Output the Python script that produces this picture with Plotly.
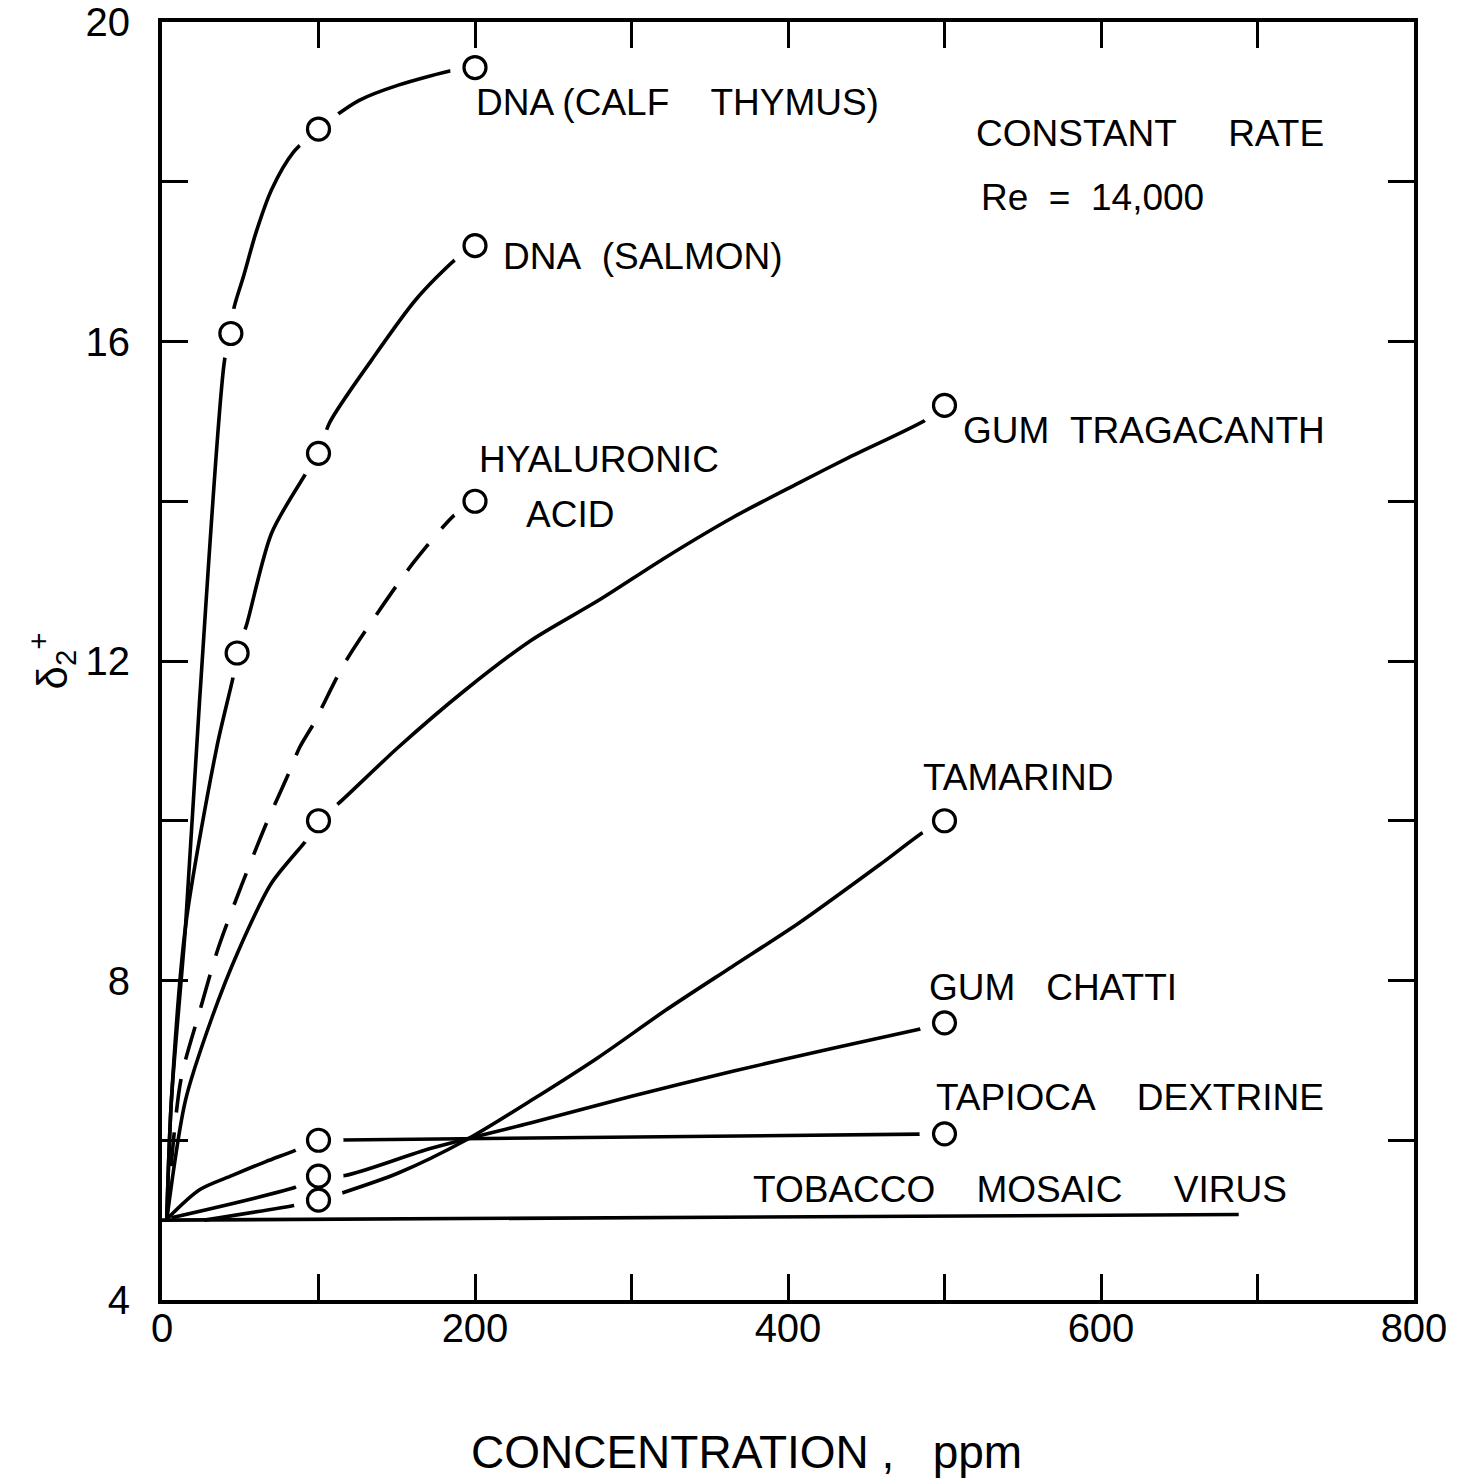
import plotly.graph_objects as go

# ---- measured points (concentration in ppm, delta_2+) ----
calf_x = [44, 100, 200]
calf_y = [16.1, 18.66, 19.43]
salmon_x = [48, 100, 200]
salmon_y = [12.1, 14.6, 17.2]
hyal_x = [200]
hyal_y = [14.0]
trag_x = [100, 500]
trag_y = [10.0, 15.2]
tamarind_x = [100, 500]
tamarind_y = [5.25, 10.0]
chatti_x = [100, 500]
chatti_y = [5.55, 7.47]
tapioca_x = [100, 500]
tapioca_y = [6.0, 6.08]
tmv_x = [0, 688]
tmv_y = [5.0, 5.07]

# ---- hand-faired curves through the points ----
calf_curve_x = [3, 6, 15, 24, 40, 44, 46, 52, 60, 70, 84, 100, 109, 126, 151, 187, 200]
calf_curve_y = [5.0, 6.5, 8.67, 11.5, 15.77, 16.1, 16.42, 16.81, 17.36, 17.9, 18.37, 18.66,
                18.8, 19.02, 19.21, 19.4, 19.43]
salmon_curve_x = [3, 6, 15, 35, 46, 48, 54, 70, 92, 100, 107, 134, 162, 187, 200]
salmon_curve_y = [5.0, 6.5, 8.67, 10.92, 11.85, 12.1, 12.45, 13.6, 14.35, 14.6, 14.98,
                  15.77, 16.52, 17.02, 17.2]
hyal_curve_x = [3, 12, 24, 36, 51, 67, 80, 88, 97, 116, 137, 161, 187, 200]
hyal_curve_y = [5.0, 6.75, 7.61, 8.41, 9.2, 9.98, 10.55, 10.92, 11.22, 11.95, 12.58, 13.24,
                13.83, 14.0]
trag_curve_x = [3, 15, 32, 49, 70, 94, 100, 113, 151, 194, 236, 279, 322, 365, 407, 439, 490, 500]
trag_curve_y = [5.0, 6.5, 7.54, 8.38, 9.22, 9.8, 10.0, 10.22, 10.92, 11.64, 12.26, 12.76,
                13.3, 13.8, 14.23, 14.55, 15.04, 15.2]
tamarind_curve_x = [27, 86, 100, 115, 151, 194, 236, 279, 322, 364, 407, 460, 486, 500]
tamarind_curve_y = [5.0, 5.19, 5.25, 5.34, 5.59, 6.0, 6.5, 7.04, 7.63, 8.17, 8.72, 9.47, 9.85, 10.0]
chatti_curve_x = [6, 88, 100, 117, 172, 236, 300, 364, 428, 486, 500]
chatti_curve_y = [5.03, 5.43, 5.55, 5.56, 5.9, 6.22, 6.55, 6.86, 7.15, 7.4, 7.47]
tapioca_curve_x = [4, 24, 45, 66, 86, 100]
tapioca_curve_y = [5.03, 5.38, 5.56, 5.73, 5.88, 6.0]

FONT = "Liberation Sans"
INK = "black"
LW = 3.6

fig = go.Figure()


def curve(x, y, dash="solid"):
    fig.add_trace(go.Scatter(
        x=x, y=y, mode="lines", line=dict(color=INK, width=LW, dash=dash, shape="spline", smoothing=0.8),
        hoverinfo="skip", showlegend=False))


curve(calf_curve_x, calf_curve_y)
curve(salmon_curve_x, salmon_curve_y)
curve(hyal_curve_x, hyal_curve_y, dash="34px,20px")
curve(trag_curve_x, trag_curve_y)
curve(tamarind_curve_x, tamarind_curve_y)
curve(chatti_curve_x, chatti_curve_y)
curve(tapioca_curve_x, tapioca_curve_y)
# tapioca dextrine levels off between its two points
fig.add_trace(go.Scatter(x=tapioca_x, y=tapioca_y, mode="lines",
                         line=dict(color=INK, width=LW), hoverinfo="skip", showlegend=False))

series = [(calf_x, calf_y), (salmon_x, salmon_y), (hyal_x, hyal_y), (trag_x, trag_y),
          (tamarind_x, tamarind_y), (chatti_x, chatti_y), (tapioca_x, tapioca_y)]

# white halos leave a small break in each line around its data circles
for sx, sy in series:
    fig.add_trace(go.Scatter(x=sx, y=sy, mode="markers",
                             marker=dict(symbol="circle", size=50, color="white", line=dict(width=0)),
                             hoverinfo="skip", showlegend=False))

# tobacco mosaic virus: flat line, no points plotted
fig.add_trace(go.Scatter(x=tmv_x, y=tmv_y, mode="lines", line=dict(color=INK, width=LW),
                         hoverinfo="skip", showlegend=False))

for sx, sy in series:
    fig.add_trace(go.Scatter(x=sx, y=sy, mode="markers",
                             marker=dict(symbol="circle-open", size=22, color=INK, line=dict(width=3.2)),
                             showlegend=False))

axis_common = dict(showline=True, linewidth=4, linecolor=INK, mirror="ticks",
                   ticks="inside", ticklen=26, tickwidth=3, tickcolor=INK,
                   showgrid=False, zeroline=False, automargin=False,
                   tickfont=dict(family=FONT, size=40, color=INK))

# labelled ticks every 200 ppm / 4 units, unlabelled ticks halfway between
fig.update_xaxes(range=[0, 800], tick0=0, dtick=200, ticklabelstandoff=-10,
                 minor=dict(ticks="inside", ticklen=26, tickwidth=3, tickcolor=INK,
                            tick0=0, dtick=100, showgrid=False),
                 **axis_common)
fig.update_yaxes(range=[4, 20], tick0=4, dtick=4, ticklabelstandoff=20,
                 minor=dict(ticks="inside", ticklen=26, tickwidth=3, tickcolor=INK,
                            tick0=4, dtick=2, showgrid=False),
                 title=dict(text="δ<sub>2</sub><sup>+</sup>", font=dict(family=FONT, size=42, color=INK),
                            standoff=6),
                 **axis_common)

S = "\u00a0"
labels = [
    ("DNA (CALF" + S * 4 + "THYMUS)", 199.4, 18.99),
    ("CONSTANT" + S * 5 + "RATE", 518.8, 18.61),
    ("Re" + S * 2 + "=" + S * 2 + "14,000", 522, 17.80),
    ("DNA" + S * 2 + "(SALMON)", 216.6, 17.07),
    ("GUM" + S * 2 + "TRAGACANTH", 510.5, 14.89),
    ("HYALURONIC", 201.3, 14.52),
    ("ACID", 231.3, 13.83),
    ("TAMARIND", 485, 10.54),
    ("GUM" + S * 3 + "CHATTI", 488.8, 7.91),
    ("TAPIOCA" + S * 4 + "DEXTRINE", 493.3, 6.54),
    ("TOBACCO" + S * 4 + "MOSAIC" + S * 5 + "VIRUS", 376.4, 5.38),
]
for text, lx, ly in labels:
    fig.add_annotation(x=lx, y=ly, xref="x", yref="y", text=text, showarrow=False,
                       xanchor="left", yanchor="middle",
                       font=dict(family=FONT, size=37, color=INK))

fig.add_annotation(x=0.4665, y=-0.119, xref="paper", yref="paper",
                   text="CONCENTRATION" + S + "," + S * 3 + "ppm", showarrow=False,
                   xanchor="center", yanchor="middle",
                   font=dict(family=FONT, size=46, color=INK))

fig.update_layout(width=1477, height=1483,
                  margin=dict(l=162, r=63, t=22, b=183, autoexpand=False),
                  paper_bgcolor="white", plot_bgcolor="white",
                  showlegend=False)

fig.write_html("out.html")
